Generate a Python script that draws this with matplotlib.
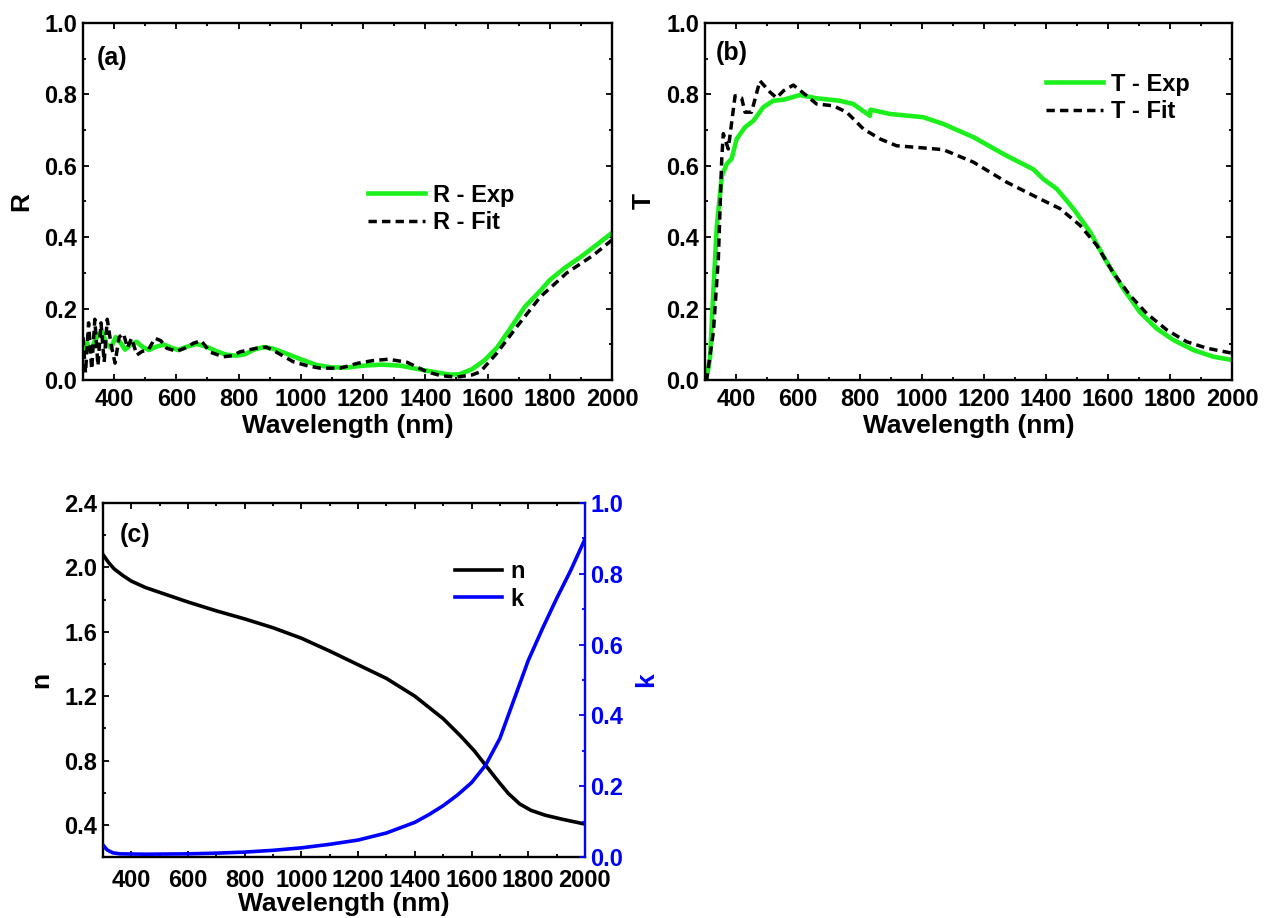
import matplotlib
matplotlib.use("Agg")
import matplotlib.pyplot as plt
from matplotlib.ticker import MultipleLocator

plt.rcParams['font.family'] = ['Liberation Sans', 'DejaVu Sans']
plt.rcParams['font.weight'] = 'bold'
plt.rcParams['axes.labelweight'] = 'bold'

# (a) reflectance
wl_R_exp = [300, 312, 325, 338, 352, 362, 375, 390, 405, 420, 435, 452, 472, 492, 512, 535, 560, 585, 605, 630,
            665, 700, 730, 760, 790, 820, 850, 880, 910, 950, 1000, 1050, 1100, 1150, 1200, 1260, 1320, 1380, 1430, 1480,
            1510, 1550, 1590, 1630, 1670, 1720, 1770, 1800, 1850, 1900, 1950, 2000]
R_exp = [0.085, 0.105, 0.080, 0.110, 0.130, 0.135, 0.100, 0.090, 0.120, 0.105, 0.085, 0.098, 0.107, 0.092, 0.084,
         0.093, 0.099, 0.090, 0.084, 0.092, 0.101, 0.092, 0.080, 0.071, 0.068, 0.072, 0.085, 0.092, 0.088, 0.075,
         0.058, 0.042, 0.035, 0.035, 0.040, 0.043, 0.040, 0.030, 0.022, 0.015, 0.016, 0.030, 0.055, 0.090, 0.140,
         0.205, 0.250, 0.280, 0.315, 0.345, 0.378, 0.412]
wl_R_fit = [300, 308, 318, 328, 338, 348, 358, 368, 378, 390, 403, 416, 430, 443, 456, 473, 490, 510, 531, 550,
            569, 601, 630, 655, 680, 708, 751, 780, 805, 858, 890, 917, 976, 1020, 1062, 1126, 1184, 1230, 1280, 1340,
            1405, 1450, 1500, 1550, 1577, 1630, 1695, 1770, 1855, 1941, 2000]
R_fit = [0.12, 0.02, 0.16, 0.03, 0.17, 0.04, 0.16, 0.05, 0.17, 0.10, 0.047, 0.12, 0.13, 0.09, 0.117, 0.07, 0.08,
         0.084, 0.117, 0.11, 0.089, 0.08, 0.09, 0.103, 0.11, 0.078, 0.065, 0.068, 0.079, 0.089, 0.092, 0.08, 0.051,
         0.040, 0.033, 0.033, 0.047, 0.054, 0.058, 0.050, 0.023, 0.012, 0.008, 0.014, 0.023, 0.075, 0.150, 0.233,
         0.300, 0.350, 0.392]

# (b) transmittance
wl_T_exp = [300, 305, 316, 327, 338, 354, 370, 386, 402, 429, 456, 488, 520, 553, 606, 660, 735, 778, 832, 834,
            897, 1004, 1069, 1166, 1273, 1359, 1391, 1435, 1488, 1542, 1596, 1649, 1703, 1757, 1811, 1875, 1940, 2000]
T_exp = [0.0, 0.005, 0.06, 0.25, 0.43, 0.57, 0.605, 0.62, 0.675, 0.708, 0.726, 0.764, 0.782, 0.785, 0.798, 0.789,
         0.782, 0.773, 0.740, 0.757, 0.745, 0.736, 0.717, 0.680, 0.628, 0.590, 0.563, 0.535, 0.480, 0.415, 0.330,
         0.256, 0.190, 0.144, 0.112, 0.084, 0.065, 0.056]
wl_T_fit = [300, 305, 327, 343, 354, 359, 375, 397, 418, 429, 450, 477, 510, 531, 553, 585, 628, 660, 714, 757,
            811, 865, 918, 1004, 1069, 1166, 1273, 1381, 1445, 1510, 1564, 1617, 1671, 1725, 1790, 1854, 1919, 2000]
T_fit = [0.0, 0.0, 0.135, 0.34, 0.62, 0.69, 0.647, 0.796, 0.79, 0.75, 0.75, 0.838, 0.806, 0.79, 0.81, 0.826,
         0.796, 0.773, 0.768, 0.75, 0.703, 0.675, 0.656, 0.650, 0.645, 0.61, 0.554, 0.507, 0.48, 0.433, 0.377,
         0.30, 0.237, 0.186, 0.14, 0.107, 0.089, 0.075]

# (c) optical constants
wl_n = [300, 320, 340, 370, 400, 450, 500, 550, 600, 700, 800, 900, 1000, 1100, 1200, 1300, 1400, 1500, 1560,
        1610, 1650, 1690, 1730, 1770, 1810, 1860, 1920, 2000]
n_vals = [2.08, 2.03, 1.99, 1.95, 1.915, 1.875, 1.845, 1.815, 1.785, 1.73, 1.68, 1.625, 1.56, 1.48, 1.395, 1.31,
          1.20, 1.06, 0.955, 0.86, 0.77, 0.68, 0.595, 0.53, 0.49, 0.46, 0.435, 0.405]
wl_k = [300, 315, 335, 360, 450, 600, 700, 800, 900, 1000, 1100, 1200, 1300, 1400, 1450, 1500, 1550, 1600, 1650,
        1700, 1750, 1800, 1850, 1900, 1950, 2000]
k_vals = [0.034, 0.02, 0.012, 0.009, 0.008, 0.009, 0.011, 0.014, 0.019, 0.026, 0.036, 0.048, 0.068, 0.098, 0.12,
          0.145, 0.175, 0.21, 0.26, 0.335, 0.445, 0.555, 0.645, 0.73, 0.81, 0.898]

GREEN = '#1CF01C'
BLUE = '#0000FF'
TICK_FS = 17
LABEL_FS = 19
LEG_FS = 17
DASH = (2.4, 1.5)


def style_axes(ax, ymin, ymax, ymaj, ymin_step, xpad=6, xlabelpad=2):
    ax.set_xlim(300, 2000)
    ax.set_ylim(ymin, ymax)
    ax.xaxis.set_major_locator(MultipleLocator(200))
    ax.xaxis.set_minor_locator(MultipleLocator(100))
    ax.yaxis.set_major_locator(MultipleLocator(ymaj))
    ax.yaxis.set_minor_locator(MultipleLocator(ymin_step))
    ax.tick_params(which='both', direction='in', top=True, right=True, width=1.3)
    ax.tick_params(which='major', length=4.5)
    ax.tick_params(which='minor', length=2.5)
    ax.tick_params(axis='x', pad=xpad, labelsize=TICK_FS)
    ax.tick_params(axis='y', pad=4, labelsize=TICK_FS)
    for s in ax.spines.values():
        s.set_linewidth(1.7)
    ax.set_xlabel('Wavelength (nm)', fontsize=LABEL_FS, labelpad=xlabelpad)


fig = plt.figure(figsize=(12.71, 9.18), dpi=100)

# panel (a)
ax_a = fig.add_axes([0.0653, 0.5861, 0.4162, 0.3889])
ax_a.plot(wl_R_exp, R_exp, color=GREEN, lw=3.3, label='R - Exp')
ax_a.plot(wl_R_fit, R_fit, color='black', lw=2.5, dashes=DASH, label='R - Fit')
style_axes(ax_a, 0, 1.0, 0.2, 0.1)
ax_a.yaxis.set_major_formatter(lambda v, p: f'{v:.1f}')
ax_a.set_ylabel('R', fontsize=LABEL_FS, labelpad=8)
ax_a.text(0.055, 0.902, '(a)', transform=ax_a.transAxes, fontsize=18, ha='center', va='center')
ax_a.legend(loc='center left', bbox_to_anchor=(0.539, 0.479), frameon=False, fontsize=LEG_FS,
            borderpad=0, borderaxespad=0, handlelength=2.4, handletextpad=0.35, labelspacing=0.2)

# panel (b)
ax_b = fig.add_axes([0.5547, 0.5861, 0.4146, 0.3889])
ax_b.plot(wl_T_exp, T_exp, color=GREEN, lw=3.3, label='T - Exp')
ax_b.plot(wl_T_fit, T_fit, color='black', lw=2.5, dashes=DASH, label='T - Fit')
style_axes(ax_b, 0, 1.0, 0.2, 0.1)
ax_b.yaxis.set_major_formatter(lambda v, p: f'{v:.1f}')
ax_b.set_ylabel('T', fontsize=LABEL_FS, labelpad=8)
ax_b.text(0.051, 0.916, '(b)', transform=ax_b.transAxes, fontsize=18, ha='center', va='center')
ax_b.legend(loc='center left', bbox_to_anchor=(0.648, 0.790), frameon=False, fontsize=LEG_FS,
            borderpad=0, borderaxespad=0, handlelength=2.4, handletextpad=0.35, labelspacing=0.2)

# panel (c)
ax_c = fig.add_axes([0.0810, 0.0664, 0.3792, 0.3856])
ln_n, = ax_c.plot(wl_n, n_vals, color='black', lw=2.6, label='n')
style_axes(ax_c, 0.2, 2.4, 0.4, 0.2, xpad=8.5, xlabelpad=0)
ax_c.tick_params(right=False)
ax_c.spines['right'].set_visible(False)
ax_c.yaxis.set_major_formatter(lambda v, p: f'{v:.1f}')
ax_c.set_ylabel('n', fontsize=LABEL_FS, labelpad=8)
ax_c.text(0.066, 0.91, '(c)', transform=ax_c.transAxes, fontsize=18, ha='center', va='center')

ax_k = ax_c.twinx()
ln_k, = ax_k.plot(wl_k, k_vals, color=BLUE, lw=2.6, label='k')
ax_k.set_ylim(0, 1.0)
ax_k.yaxis.set_major_locator(MultipleLocator(0.2))
ax_k.yaxis.set_minor_locator(MultipleLocator(0.1))
ax_k.yaxis.set_major_formatter(lambda v, p: f'{v:.1f}')
ax_k.tick_params(axis='y', which='both', direction='in', colors=BLUE, labelsize=TICK_FS, width=1.3, pad=4)
ax_k.tick_params(axis='y', which='major', length=4.5)
ax_k.tick_params(axis='y', which='minor', length=2.5)
for side in ['left', 'top', 'bottom']:
    ax_k.spines[side].set_visible(False)
ax_k.spines['right'].set_color(BLUE)
ax_k.spines['right'].set_linewidth(1.7)
ax_k.set_ylabel('k', fontsize=LABEL_FS, color=BLUE, labelpad=8)
ax_k.legend(handles=[ln_n, ln_k], loc='center left', bbox_to_anchor=(0.730, 0.768), frameon=False,
            fontsize=LEG_FS, borderpad=0, borderaxespad=0, handlelength=2.0, handletextpad=0.35,
            labelspacing=0.2)

fig.savefig('out.png', dpi=100)
